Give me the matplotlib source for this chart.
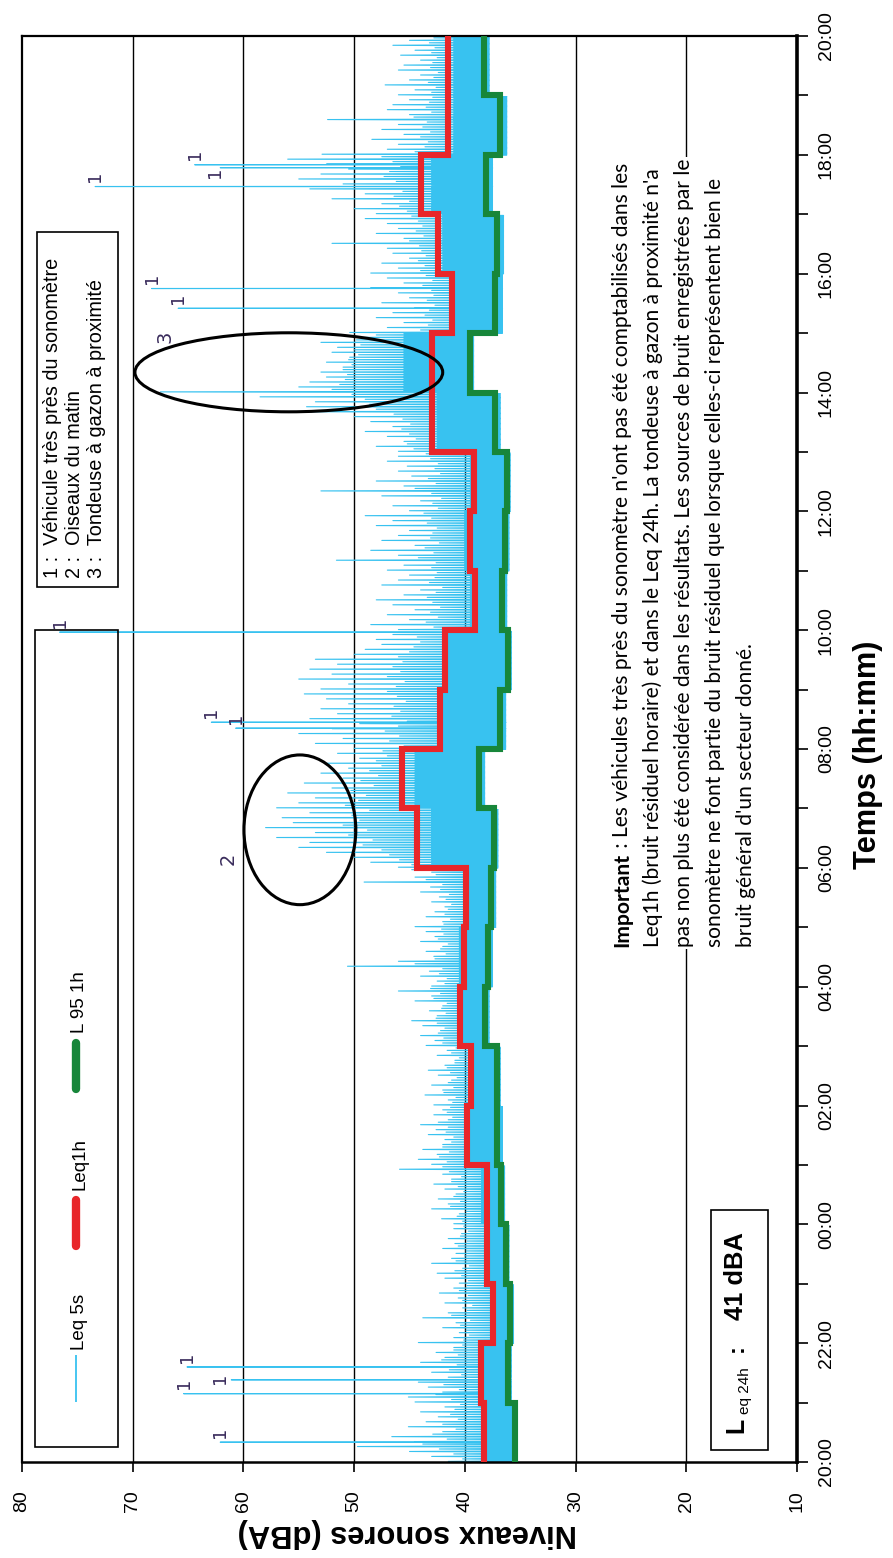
import numpy as np
import matplotlib
matplotlib.use("Agg")
import matplotlib.pyplot as plt
from matplotlib.patches import Ellipse, Rectangle
from matplotlib.lines import Line2D

W, H, DPI = 893, 1558, 100

# ---------------- data ----------------
time_tick_labels = ["20:00", "22:00", "00:00", "02:00", "04:00", "06:00", "08:00",
                    "10:00", "12:00", "14:00", "16:00", "18:00", "20:00"]
level_ticks = [80, 70, 60, 50, 40, 30, 20, 10]

# hourly indicators, one value per hour from 20:00 to 20:00
leq_1h = [38.3, 38.5, 37.5, 38.0, 38.0, 39.8, 39.4, 40.4, 40.1, 39.9, 44.3, 45.7,
          42.2, 41.8, 39.1, 39.5, 39.2, 43.0, 43.0, 41.2, 42.4, 44.0, 41.5, 41.5]
l95_1h = [35.5, 36.1, 35.9, 36.3, 36.7, 37.1, 37.1, 38.2, 37.9, 37.6, 37.4, 38.7,
          36.8, 36.1, 36.6, 36.4, 36.2, 37.3, 39.5, 37.3, 37.1, 38.1, 36.8, 38.3]

# Leq 5s: background floor and dense-core level per hour
leq5s_floor = [35.6, 35.8, 35.6, 36.0, 36.4, 36.6, 36.8, 37.8, 37.5, 37.2, 37.0, 38.2,
               36.3, 35.8, 36.2, 36.0, 35.9, 36.8, 39.2, 36.6, 36.5, 37.5, 36.2, 37.8]
leq5s_core = [38.5, 38.6, 37.6, 38.0, 38.5, 40.0, 39.5, 40.5, 40.5, 40.0, 43.0, 44.5,
              42.0, 41.5, 39.5, 40.0, 39.5, 42.5, 45.5, 41.0, 42.0, 43.0, 41.0, 41.0]
# Leq 5s: highest level in each 2.5-minute block (24 blocks per hour)
leq5s_peaks = [
    [41.5, 40.2, 43.0, 41.0, 45.0, 42.3, 49.7, 43.8, 44.5, 41.6, 46.6, 42.9,
     42.0, 40.8, 45.1, 42.0, 43.5, 40.6, 42.4, 41.3, 44.0, 40.9, 41.8, 40.4],  # 20h
    [44.5, 41.2, 45.1, 42.6, 42.0, 40.5, 43.3, 41.9, 44.2, 42.8, 41.5, 40.3,
     43.0, 41.4, 42.2, 40.7, 44.0, 42.1, 41.8, 40.6, 42.6, 41.0, 41.0, 40.2],  # 21h
    [44.2, 40.1, 41.0, 39.6, 40.5, 39.9, 42.0, 40.4, 40.8, 39.5, 43.8, 41.2,
     41.5, 39.8, 40.2, 39.3, 41.8, 40.2, 40.6, 39.7, 42.3, 40.5, 41.0, 39.8],  # 22h
    [40.5, 39.7, 41.8, 40.3, 42.5, 40.9, 40.2, 39.6, 43.0, 40.8, 41.2, 40.0,
     40.8, 39.9, 42.0, 40.6, 40.9, 39.8, 41.5, 40.4, 40.3, 39.7, 41.0, 40.1],  # 23h
    [41.0, 40.2, 42.1, 40.7, 40.5, 39.9, 43.0, 41.3, 41.5, 40.4, 42.4, 41.0,
     40.8, 40.1, 41.8, 40.6, 42.8, 41.2, 41.2, 40.3, 42.0, 41.4, 45.9, 42.0],  # 00h
    [43.0, 41.6, 44.2, 42.3, 42.5, 41.4, 43.8, 42.0, 42.0, 41.2, 41.8, 41.0,
     43.3, 41.7, 42.6, 41.5, 44.0, 42.4, 41.5, 41.1, 42.8, 41.6, 42.0, 41.3],  # 01h
    [42.8, 41.1, 41.5, 40.8, 43.6, 41.9, 42.0, 41.0, 43.0, 41.5, 41.2, 40.7,
     42.4, 41.3, 43.3, 41.6, 41.8, 40.9, 40.9, 40.5, 42.5, 41.2, 41.6, 40.8],  # 02h
    [43.5, 42.0, 42.7, 41.9, 44.0, 42.4, 42.2, 41.8, 43.8, 42.5, 44.8, 42.6,
     42.5, 41.7, 43.2, 42.1, 42.0, 41.6, 44.5, 42.8, 43.0, 42.2, 46.0, 43.1],  # 03h
    [43.0, 41.8, 42.5, 41.6, 44.0, 42.3, 43.2, 42.0, 50.6, 44.5, 46.0, 42.7,
     42.8, 41.7, 43.5, 42.2, 42.0, 41.5, 44.0, 42.4, 42.7, 41.9, 43.5, 42.1],  # 04h
    [44.5, 41.9, 42.0, 41.3, 43.5, 41.8, 42.7, 41.5, 41.8, 41.2, 43.0, 41.7,
     42.3, 41.4, 44.0, 42.2, 43.1, 42.0, 49.1, 43.5, 44.5, 42.6, 43.0, 44.8],  # 05h
    [46.0, 44.8, 48.5, 45.9, 50.0, 46.8, 52.5, 47.5, 55.0, 49.2, 54.0, 48.3,
     57.0, 50.5, 53.5, 48.8, 58.0, 51.0, 55.5, 49.5, 56.5, 50.2, 54.0, 48.6],  # 06h
    [57.0, 50.8, 55.0, 49.6, 53.5, 48.9, 56.0, 50.3, 52.0, 48.2, 54.5, 49.4,
     51.0, 47.8, 53.0, 48.6, 50.5, 47.5, 52.5, 48.0, 49.5, 47.0, 51.5, 47.4],  # 07h
    [50.0, 45.5, 53.5, 46.8, 51.0, 45.9, 55.0, 47.2, 52.0, 46.0, 49.5, 45.2,
     54.0, 46.6, 51.5, 45.8, 53.0, 46.4, 50.5, 45.3, 52.5, 46.1, 54.5, 47.0],  # 08h
    [53.0, 46.2, 50.5, 45.4, 55.0, 47.0, 52.0, 45.8, 54.0, 46.5, 51.5, 45.6,
     53.5, 46.0, 50.0, 45.0, 49.0, 44.6, 47.5, 44.0, 48.0, 44.3, 46.5, 43.8],  # 09h
    [46.0, 42.8, 48.5, 43.5, 45.0, 42.4, 47.0, 43.1, 44.5, 42.2, 46.5, 42.9,
     48.0, 43.4, 45.5, 42.6, 44.0, 42.0, 47.5, 43.2, 46.0, 42.7, 45.0, 42.5],  # 10h
    [47.0, 43.0, 45.5, 42.6, 51.6, 44.2, 46.0, 42.8, 48.5, 43.6, 44.5, 42.3,
     47.5, 43.1, 46.0, 42.9, 45.0, 42.5, 48.0, 43.4, 46.5, 43.0, 49.0, 43.7],  # 11h
    [45.0, 42.4, 46.5, 42.9, 44.0, 42.1, 47.5, 43.0, 53.0, 44.5, 45.5, 42.6,
     48.0, 43.3, 44.8, 42.2, 46.0, 42.7, 45.2, 42.4, 47.0, 43.1, 46.0, 43.5],  # 12h
    [46.0, 44.6, 48.0, 45.2, 45.5, 44.4, 47.0, 45.0, 49.0, 45.7, 46.5, 44.9,
     48.5, 45.6, 50.0, 46.4, 55.8, 48.0, 54.3, 48.6, 53.5, 49.0, 58.5, 50.2],  # 13h
    [67.5, 52.0, 55.0, 51.3, 54.0, 50.8, 52.5, 50.6, 53.0, 51.0, 51.0, 50.2,
     52.5, 50.5, 50.4, 49.6, 52.0, 50.0, 51.5, 49.4, 53.0, 49.8, 50.0, 48.0],  # 14h
    [50.4, 44.0, 47.0, 43.3, 45.5, 42.9, 48.0, 43.6, 46.5, 43.2, 44.5, 42.7,
     47.5, 43.4, 45.0, 42.8, 46.0, 43.0, 48.5, 43.8, 45.5, 42.9, 47.0, 43.5],  # 15h
    [48.5, 44.0, 46.0, 43.6, 47.5, 44.2, 45.0, 43.5, 46.5, 43.9, 47.0, 44.1,
     52.0, 45.0, 45.5, 43.7, 48.0, 44.4, 46.0, 43.8, 47.0, 44.2, 49.0, 44.8],  # 16h
    [48.0, 45.2, 50.0, 45.9, 47.5, 45.0, 52.0, 46.4, 49.0, 45.6, 54.0, 47.0,
     51.0, 46.2, 55.0, 47.3, 53.0, 46.8, 50.5, 45.8, 52.5, 46.5, 56.0, 47.5],  # 17h
    [52.9, 44.5, 47.0, 43.6, 46.0, 43.3, 48.4, 44.0, 45.5, 43.1, 47.5, 43.8,
     46.0, 43.4, 52.4, 44.6, 45.0, 43.0, 47.0, 43.5, 46.5, 43.2, 45.0, 42.9],  # 18h
    [46.0, 43.0, 44.5, 42.6, 47.2, 43.3, 45.0, 42.8, 44.0, 42.4, 46.0, 43.1,
     45.5, 42.9, 44.0, 42.5, 45.8, 43.0, 44.5, 42.7, 46.5, 43.2, 45.0, 42.8],  # 19h
]

# vehicles passing very close to the sound level meter (label "1")
event_times = ["20:20", "21:09", "21:23", "21:36", "08:21", "08:27", "09:58",
               "15:25", "15:45", "17:28", "17:47", "17:50"]
event_levels = [62.1, 65.4, 61.1, 65.1, 60.7, 62.9, 76.6, 65.9, 68.3, 73.4, 62.1, 64.4]

BLUE = "#38C2F0"
RED = "#E8262A"
GREEN = "#17863A"
LABEL_COLOR = "#3a2c5c"


def hours_since_start(hhmm):
    hh, mm = (int(p) for p in hhmm.split(":"))
    return ((hh - 20) % 24) + mm / 60.0


def px(x, y):
    """pixel position (from top-left) -> figure fraction"""
    return x / W, 1 - y / H


# ---------------- Leq 5s series ----------------
n_blocks = len(leq5s_peaks[0])
block = 1.0 / n_blocks
sub = np.array([0.0, 0.25, 0.5, 0.75]) * block
ts, vs = [], []
for h in range(24):
    fl, co = leq5s_floor[h], leq5s_core[h]
    for i, pk in enumerate(leq5s_peaks[h]):
        t0 = h + i * block
        ts.extend(t0 + sub)
        vs.extend([fl, pk, fl, co])
for et, ev in zip(event_times, event_levels):
    t = hours_since_start(et)
    fl = leq5s_floor[int(t)]
    ts.extend([t - 0.004, t, t + 0.004])
    vs.extend([fl, ev, fl])
ts = np.asarray(ts)
vs = np.asarray(vs)
order = np.argsort(ts, kind="stable")
ts, vs = ts[order], vs[order]

# ---------------- figure ----------------
fig = plt.figure(figsize=(W / DPI, H / DPI), dpi=DPI)
fig.patch.set_facecolor("white")
ax = fig.add_axes([22 / W, 1 - 1462 / H, (797 - 22) / W, (1462 - 36) / H])
ax.set_xlim(80, 10)
ax.set_ylim(0, 24)

for v in level_ticks[1:-1]:
    ax.axvline(v, color="black", lw=1.0, zorder=0.5)

ax.plot(vs, ts, color=BLUE, lw=0.8, zorder=2)

edges = np.arange(25)
ys = np.repeat(edges, 2)[1:-1]
ax.plot(np.repeat(leq_1h, 2), ys, color=RED, lw=4.4, zorder=3,
        solid_joinstyle="miter", solid_capstyle="butt")
ax.plot(np.repeat(l95_1h, 2), ys, color=GREEN, lw=4.4, zorder=3,
        solid_joinstyle="miter", solid_capstyle="butt")

# annotation labels on the vehicle peaks
label_offsets = {2: (1.0, 0.02), 10: (0.45, -0.07)}
for k, (et, ev) in enumerate(zip(event_times, event_levels)):
    dx, dy = label_offsets.get(k, (0.0, 0.168))
    ax.text(ev + dx, hours_since_start(et) + dy, "1", rotation=90,
            ha="center", va="center", fontsize=13, color=LABEL_COLOR,
            family="DejaVu Sans", zorder=4)

# circled events: morning birds and lawn mower
ax.add_patch(Ellipse((54.9, 10.64), 10.1, 2.52, fill=False, ec="black", lw=2.2, zorder=4))
ax.add_patch(Ellipse((55.9, 18.34), 27.8, 1.33, fill=False, ec="black", lw=2.2, zorder=4))
ax.text(61.4, 10.16, "2", rotation=90, ha="center", va="center", fontsize=14,
        color=LABEL_COLOR, zorder=4)
ax.text(67.1, 18.93, "3", rotation=90, ha="center", va="center", fontsize=14,
        color=LABEL_COLOR, zorder=4)

# axes decoration
for side, lw in (("top", 1.6), ("left", 1.6), ("bottom", 1.8), ("right", 2.6)):
    ax.spines[side].set_linewidth(lw)
    ax.spines[side].set_color("black")

ax.set_xticks(level_ticks)
ax.set_xticklabels([str(v) for v in level_ticks], rotation=90, fontsize=14,
                   family="Liberation Sans")
ax.tick_params(axis="x", direction="out", length=7, width=1.2, pad=13)

ax.yaxis.tick_right()
ax.set_yticks(edges)
ylabels = [time_tick_labels[k // 2] if k % 2 == 0 else "" for k in edges]
ax.set_yticklabels(ylabels, rotation=90, fontsize=14, family="Liberation Sans")
ax.tick_params(axis="y", direction="out", length=8, width=1.2, pad=7)
for lab in ax.get_yticklabels():
    lab.set_va("center")

# ---------------- figure-level texts ----------------
xlabel = fig.text(*px(407, 1533), "Niveaux sonores (dBA)", rotation=180,
                  ha="center", va="center", fontsize=19, weight="bold",
                  family="Liberation Sans")
tlabel = fig.text(*px(868, 755), "Temps (hh:mm)", rotation=90,
                  ha="center", va="center", fontsize=19, weight="bold",
                  family="Liberation Sans")

# series legend
fig.add_artist(Rectangle(px(35, 1447), 83 / W, (1447 - 630) / H,
                         transform=fig.transFigure, fill=False, ec="black", lw=1.2))
legend_items = [("Leq 5s", BLUE, 1.3, 1402, 1355, 1350),
                ("Leq1h", RED, 6.0, 1246, 1200, 1190),
                ("L 95 1h", GREEN, 6.0, 1089, 1043, 1033)]
for name, col, lw, y0, y1, yt in legend_items:
    fig.add_artist(Line2D([76 / W, 76 / W], [1 - y0 / H, 1 - y1 / H],
                          transform=fig.transFigure, color=col, lw=lw,
                          solid_capstyle="round" if lw > 2 else "butt"))
    fig.text(*px(80, yt), name, rotation=90, rotation_mode="anchor",
             ha="left", va="center", fontsize=13.5, family="Liberation Sans")

# annotation legend
fig.add_artist(Rectangle(px(37, 587), 81 / W, (587 - 232) / H,
                         transform=fig.transFigure, fill=False, ec="black", lw=1.2))
notes = ["1 :  Véhicule très près du sonomètre",
         "2 :  Oiseaux du matin",
         "3 :  Tondeuse à gazon à proximité"]
note_texts = []
for xline, s in zip((53, 75, 97), notes):
    note_texts.append(fig.text(*px(xline, 578), s, rotation=90, rotation_mode="anchor",
                               ha="left", va="center", fontsize=13,
                               family="Liberation Sans"))

# Leq 24h box
fig.add_artist(Rectangle(px(711, 1450), 57 / W, (1450 - 1210) / H,
                         transform=fig.transFigure, fill=False, ec="black", lw=1.2))
fig.text(*px(743, 1433), "L", rotation=90, rotation_mode="anchor", ha="left",
         va="baseline", fontsize=18, weight="bold", family="Liberation Sans")
fig.text(*px(749, 1414), "eq 24h", rotation=90, rotation_mode="anchor", ha="left",
         va="baseline", fontsize=11, family="Liberation Sans")
fig.text(*px(743, 1352), ":", rotation=90, rotation_mode="anchor", ha="left",
         va="baseline", fontsize=17, weight="bold", family="Liberation Sans")
leq24 = fig.text(*px(743, 1320), "41 dBA", rotation=90, rotation_mode="anchor",
                 ha="left", va="baseline", fontsize=17, weight="bold",
                 family="Liberation Sans")

# explanatory note
note_lines = [
    " : Les véhicules très près du sonomètre n'ont pas été comptabilisés dans les",
    "Leq1h (bruit résiduel horaire) et dans le Leq 24h. La tondeuse à gazon à proximité n'a",
    "pas non plus été considérée dans les résultats. Les sources de bruit enregistrées par le",
    "sonomètre ne font partie du bruit résiduel que lorsque celles-ci représentent bien le",
    "bruit général d'un secteur donné.",
]
note_x = [622, 653, 684, 715, 746]
y_start = 947
bold_word = fig.text(*px(note_x[0], y_start), "Important", rotation=90,
                     rotation_mode="anchor", ha="left", va="center", fontsize=13,
                     weight="bold", family="Lato",
                     bbox=dict(facecolor="white", edgecolor="none", pad=1))
body = []
for xl, s in zip(note_x, note_lines):
    body.append(fig.text(*px(xl, y_start), s, rotation=90, rotation_mode="anchor",
                         ha="left", va="center", fontsize=13, family="Lato",
                         bbox=dict(facecolor="white", edgecolor="none", pad=1)))

# ---------------- size text to the layout ----------------
fig.canvas.draw()
renderer = fig.canvas.get_renderer()


def length_of(txt, along="y"):
    bb = txt.get_window_extent(renderer)
    return bb.height if along == "y" else bb.width


def fit(txt, target, along="y"):
    txt.set_fontsize(txt.get_fontsize() * target / length_of(txt, along))


fit(xlabel, 340, "x")
fit(tlabel, 228, "y")
fit(leq24, 88, "y")
fit(note_texts[0], 318, "y")
for t in note_texts[1:]:
    t.set_fontsize(note_texts[0].get_fontsize())

# first note line = bold word + body text
total = length_of(bold_word) + length_of(body[0])
fs = 13 * 784 / total
bold_word.set_fontsize(fs)
for t in body:
    t.set_fontsize(fs)
fig.canvas.draw()
bl = length_of(bold_word)
body[0].set_position(px(note_x[0], y_start - bl))

fig.savefig("out.png", dpi=DPI, facecolor="white")
